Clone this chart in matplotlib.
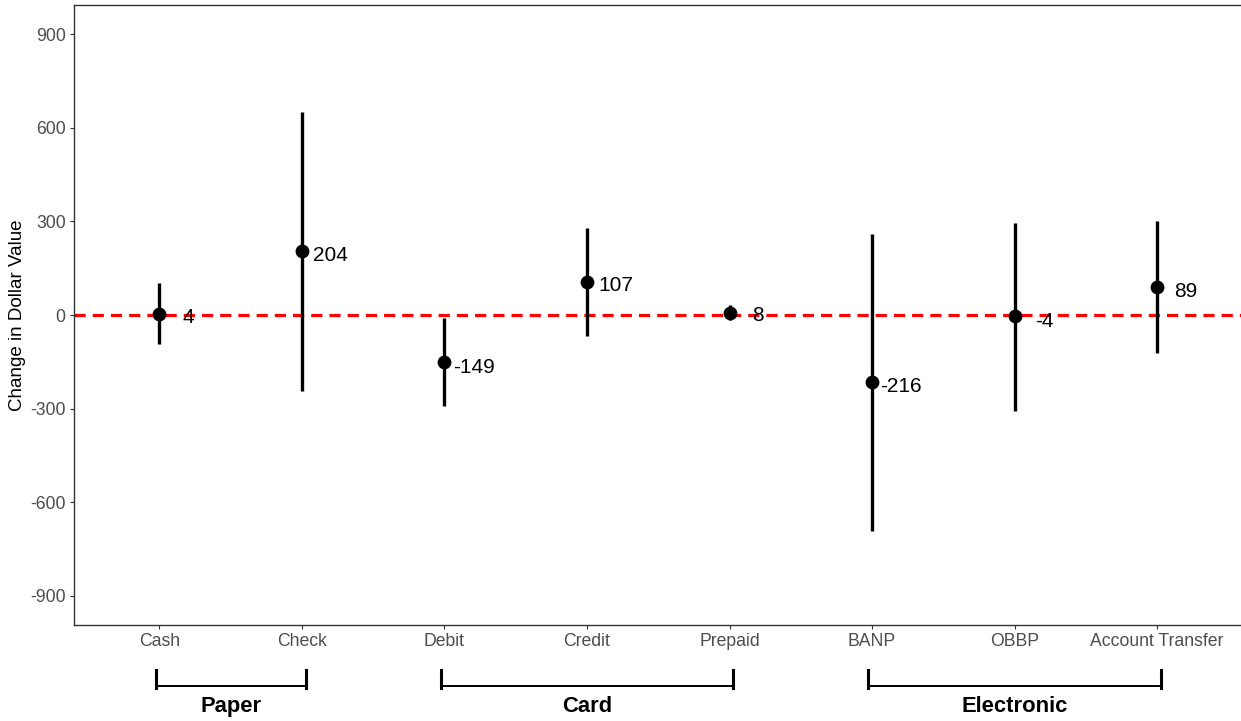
import matplotlib.pyplot as plt
from matplotlib.ticker import FixedLocator

plt.rcParams["font.family"] = ["Liberation Sans", "DejaVu Sans"]

# data
methods = ["Cash", "Check", "Debit", "Credit", "Prepaid", "BANP", "OBBP", "Account Transfer"]
estimate = [4, 204, -149, 107, 8, -216, -4, 89]
ci_low = [-93, -243, -290, -67, -15, -692, -306, -122]
ci_high = [101, 650, -8, 279, 32, 260, 296, 301]

groups = ["Paper", "Card", "Electronic"]
group_span = [(0, 1), (2, 4), (5, 7)]

yticks = [-900, -600, -300, 0, 300, 600, 900]

# label offsets (points) so numbers sit next to each dot
label_dx = [16.5, 8, 6, 8.5, 16.5, 6, 14.5, 12]
label_dy = [-3, -3, -4, -3, -2, -3, -4, -3]

fig = plt.figure(figsize=(12.41, 7.21), dpi=100)
ax = fig.add_axes([0.0596, 0.1331, 0.9474, 0.8600])

x = list(range(len(methods)))

# zero reference line
ax.axhline(0, color="red", lw=2.3, ls=(0, (3.5, 2.2)), zorder=1)

# error bars + points
ax.vlines(x, ci_low, ci_high, color="black", lw=2.4, zorder=2)
ax.scatter(x, estimate, s=80, color="black", zorder=3)

for xi, yi, dx, dy in zip(x, estimate, label_dx, label_dy):
    ax.annotate(str(yi), (xi, yi), xytext=(dx, dy), textcoords="offset points",
                ha="left", va="center", fontsize=15, color="black")

ax.set_xlim(-0.6, 7.65)
ax.set_ylim(-993, 993)
ax.yaxis.set_major_locator(FixedLocator(yticks))
ax.set_yticklabels([str(t) for t in yticks])
ax.set_xticks(x)
ax.set_xticklabels(methods)
ax.tick_params(axis="both", colors="#333333", labelcolor="#4D4D4D", labelsize=12.7,
               length=3, width=0.8, pad=3)
ax.set_ylabel("Change in Dollar Value", fontsize=13.5, color="black", labelpad=3)

for s in ax.spines.values():
    s.set_color("#333333")
    s.set_linewidth(1.0)
ax.spines["right"].set_visible(False)

# group brackets under the x axis
trans = ax.get_xaxis_transform()
for name, (a, b) in zip(groups, group_span):
    ax.plot([a - 0.015, b + 0.015], [-0.0985, -0.0985], color="black", lw=1.4,
            transform=trans, clip_on=False)
    for e in (a - 0.025, b + 0.025):
        ax.plot([e, e], [-0.0726, -0.1016], color="black", lw=2.2,
                transform=trans, clip_on=False)
    ax.text((a + b) / 2, -0.132, name, transform=trans, ha="center", va="center",
            fontsize=15.8, fontweight="bold")

fig.savefig("out.png", dpi=100)
